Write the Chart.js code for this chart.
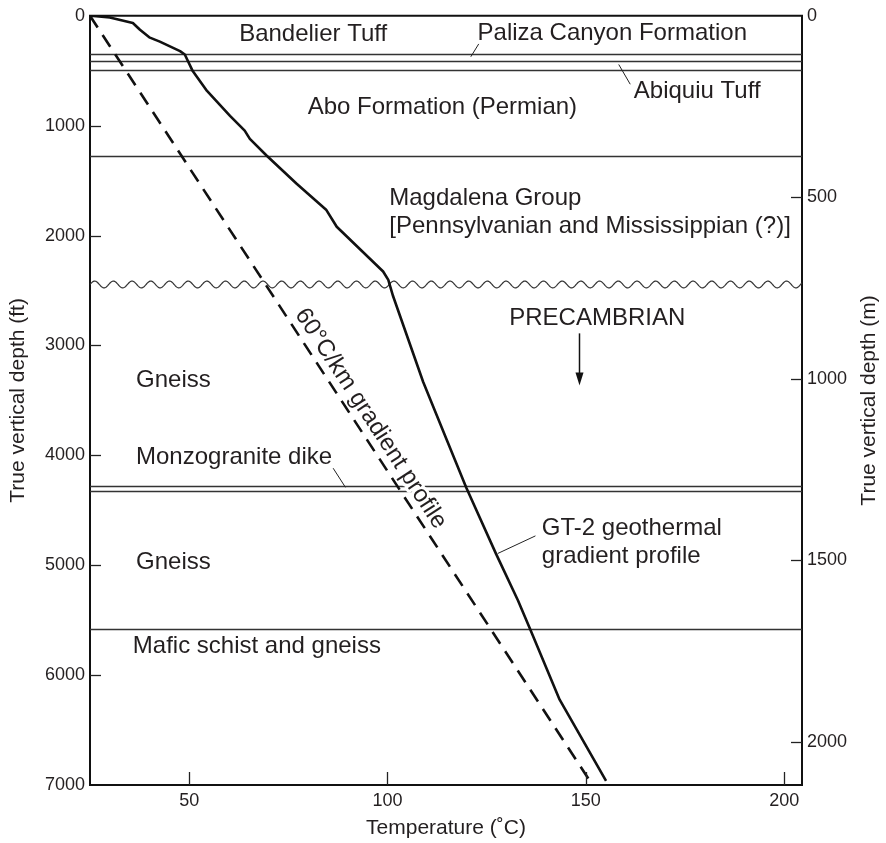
<!DOCTYPE html>
<html><head><meta charset="utf-8">
<script src="https://cdn.jsdelivr.net/npm/chart.js@4/dist/chart.umd.min.js"></script>
<style>html,body{margin:0;padding:0;background:#fff}#wrap{width:886px;height:843px}</style>
</head><body><div id="wrap"><canvas id="c" width="886" height="843"></canvas></div>
<script>
// ---- data ----
const xTickValues = [50, 100, 150, 200];
const yTickValuesFt = [0, 1000, 2000, 3000, 4000, 5000, 6000, 7000];
const yTickValuesM = [0, 500, 1000, 1500, 2000];
const tempRange = [25, 204.5];
const depthRangeFt = [0, 7000];
const depthRangeM = [0, 2118.5];

// GT-2 geothermal gradient profile (temperature °C, depth ft)
const gt2Temp  = [25.2, 30, 35.8, 37.6, 40.1, 42.6, 47.7, 48.9, 50.9, 54.5, 60.3, 64, 65.3, 69.5, 77.1, 84.6, 87.2, 98.9, 100.2, 101.4, 109, 114.8, 119.9, 127.4, 132.9, 136, 143.4, 155.1];
const gt2Depth = [0, 15, 66, 127, 199, 235, 322, 352, 503, 684, 910, 1045, 1120, 1271, 1529, 1768, 1920, 2327, 2403, 2550, 3333, 3846, 4297, 4899, 5321, 5585, 6224, 6962];

// 60°C/km gradient profile
const gradTemp  = [25, 151.7];
const gradDepth = [0, 7000];

// formation boundaries (ft)
const formationDepths = [344, 407, 494, 1275, 4275, 4322, 5583];
const unconformityDepth = 2445;

// text labels (anchor temperature, depth, alignment)
const labelTexts  = ['Bandelier Tuff', 'Paliza Canyon Formation', 'Abiquiu Tuff', 'Abo Formation (Permian)', 'Magdalena Group', '[Pennsylvanian and Mississippian (?)]', 'PRECAMBRIAN', 'Gneiss', 'Monzogranite dike', 'Gneiss', 'Mafic schist and gneiss', 'GT-2 geothermal', 'gradient profile'];
const labelTemps  = [62.6, 122.7, 162.1, 147.8, 100.45, 100.45, 130.7, 36.6, 36.6, 36.6, 35.8, 138.9, 138.9];
const labelDepths = [165, 157, 690, 835, 1664, 1915, 2756, 3319, 4020, 4974, 5734, 4664, 4920];
const labelAligns = ['left', 'left', 'left', 'right', 'left', 'left', 'left', 'left', 'left', 'left', 'left', 'left', 'left'];
const gradLabel = '60°C/km gradient profile';

// leader lines [T1, D1, T2, D2]
const leaderT1 = [123.0, 158.3, 86.3, 127.8];
const leaderD1 = [256, 443, 4117, 4893];
const leaderT2 = [121.0, 161.2, 89.4, 137.3];
const leaderD2 = [373, 623, 4291, 4733];

// PRECAMBRIAN arrow
const arrowTemp = 148.3;
const arrowDepths = [2890, 3364];

// ---- styles ----
const FONT = "'Liberation Sans', Arial, Helvetica, sans-serif";
const INK = '#231f20';
const rightTitle = 'True vertical depth (m)';

const decor = {
  id: 'decor',
  beforeDatasetsDraw(chart) {
    const {ctx, chartArea: a, scales: {x, y}} = chart;
    ctx.save();
    // formation lines
    ctx.strokeStyle = '#333';
    ctx.lineWidth = 1.3;
    formationDepths.forEach(d => {
      const py = Math.round(y.getPixelForValue(d)) + 0.5;
      ctx.beginPath(); ctx.moveTo(a.left, py); ctx.lineTo(a.right, py); ctx.stroke();
    });
    // unconformity wavy line
    const wy = y.getPixelForValue(unconformityDepth);
    ctx.beginPath();
    for (let px = a.left; px <= a.right; px += 0.5) {
      const yy = wy - 3.4 * Math.sin((px - a.left) / 18.7 * 2 * Math.PI);
      if (px === a.left) ctx.moveTo(px, yy); else ctx.lineTo(px, yy);
    }
    ctx.lineWidth = 1.2;
    ctx.stroke();
    // leader lines
    ctx.strokeStyle = '#222';
    ctx.lineWidth = 1;
    leaderT1.forEach((t, i) => {
      ctx.beginPath();
      ctx.moveTo(x.getPixelForValue(t), y.getPixelForValue(leaderD1[i]));
      ctx.lineTo(x.getPixelForValue(leaderT2[i]), y.getPixelForValue(leaderD2[i]));
      ctx.stroke();
    });
    // rotated gradient label
    const x0 = x.getPixelForValue(gradTemp[0]), y0 = y.getPixelForValue(gradDepth[0]);
    const x1 = x.getPixelForValue(gradTemp[1]), y1 = y.getPixelForValue(gradDepth[1]);
    const len = Math.hypot(x1 - x0, y1 - y0);
    const ux = (x1 - x0) / len, uy = (y1 - y0) / len;
    const t = 0.534 * len, off = 8;
    const cx = x0 + ux * t + uy * off, cy = y0 + uy * t - ux * off;
    ctx.translate(cx, cy);
    ctx.rotate(Math.atan2(uy, ux));
    ctx.font = '24px ' + FONT;
    ctx.textAlign = 'center';
    ctx.textBaseline = 'alphabetic';
    ctx.strokeStyle = '#fff';
    ctx.lineWidth = 6;
    ctx.lineJoin = 'round';
    ctx.strokeText(gradLabel, 0, 0);
    ctx.fillStyle = INK;
    ctx.fillText(gradLabel, 0, 0);
    ctx.restore();
  },
  afterDatasetsDraw(chart) {
    const {ctx, chartArea: a, scales: {x, y, y2}} = chart;
    ctx.save();
    // text labels
    ctx.font = '24px ' + FONT;
    ctx.fillStyle = INK;
    ctx.textBaseline = 'middle';
    labelTexts.forEach((s, i) => {
      ctx.textAlign = labelAligns[i];
      ctx.fillText(s, x.getPixelForValue(labelTemps[i]), y.getPixelForValue(labelDepths[i]));
    });
    // arrow
    const ax = Math.round(x.getPixelForValue(arrowTemp)) + 0.5;
    const ay0 = y.getPixelForValue(arrowDepths[0]), ay1 = y.getPixelForValue(arrowDepths[1]);
    ctx.strokeStyle = '#111';
    ctx.lineWidth = 1.5;
    ctx.beginPath(); ctx.moveTo(ax, ay0); ctx.lineTo(ax, ay1 - 8); ctx.stroke();
    ctx.fillStyle = '#111';
    ctx.beginPath(); ctx.moveTo(ax, ay1); ctx.lineTo(ax - 4, ay1 - 13); ctx.lineTo(ax + 4, ay1 - 13); ctx.closePath(); ctx.fill();
    // inward ticks
    ctx.strokeStyle = '#222';
    ctx.lineWidth = 1.3;
    xTickValues.forEach(v => {
      if (v <= x.min || v >= x.max) return;
      const px = Math.round(x.getPixelForValue(v)) + 0.5;
      ctx.beginPath(); ctx.moveTo(px, a.bottom); ctx.lineTo(px, a.bottom - 13); ctx.stroke();
    });
    yTickValuesFt.forEach(v => {
      if (v <= y.min || v >= y.max) return;
      const py = Math.round(y.getPixelForValue(v)) + 0.5;
      ctx.beginPath(); ctx.moveTo(a.left, py); ctx.lineTo(a.left + 11, py); ctx.stroke();
    });
    yTickValuesM.forEach(v => {
      if (v <= y2.min || v >= y2.max) return;
      const py = Math.round(y2.getPixelForValue(v)) + 0.5;
      ctx.beginPath(); ctx.moveTo(a.right, py); ctx.lineTo(a.right - 11, py); ctx.stroke();
    });
    // top frame line
    ctx.strokeStyle = '#111';
    ctx.lineWidth = 2;
    ctx.beginPath(); ctx.moveTo(a.left - 1, a.top); ctx.lineTo(a.right + 1, a.top); ctx.stroke();
    // right axis title (reads bottom-to-top)
    ctx.translate(y2.right - 17, (a.top + a.bottom) / 2);
    ctx.rotate(-Math.PI / 2);
    ctx.font = '21px ' + FONT;
    ctx.fillStyle = INK;
    ctx.textAlign = 'center';
    ctx.textBaseline = 'middle';
    ctx.fillText(rightTitle, 0, 0);
    ctx.restore();
  }
};

const tickFont = {family: FONT, size: 18};
const titleFont = {family: FONT, size: 21};
const toTicks = arr => arr.map(v => ({value: v}));

new Chart(document.getElementById('c'), {
  type: 'scatter',
  data: {
    datasets: [
      {
        data: gt2Temp.map((t, i) => ({x: t, y: gt2Depth[i]})),
        showLine: true, borderColor: '#111', borderWidth: 2.6, pointRadius: 0, tension: 0, fill: false,
        borderJoinStyle: 'round', yAxisID: 'y'
      },
      {
        data: gradTemp.map((t, i) => ({x: t, y: gradDepth[i]})),
        showLine: true, borderColor: '#111', borderWidth: 2.6, borderDash: [14, 9], pointRadius: 0, fill: false,
        yAxisID: 'y'
      }
    ]
  },
  options: {
    responsive: false, animation: false, devicePixelRatio: 1,
    layout: {padding: {top: 11, left: 0, right: 0, bottom: 0}},
    plugins: {legend: {display: false}, tooltip: {enabled: false}},
    scales: {
      x: {
        type: 'linear', position: 'bottom', min: tempRange[0], max: tempRange[1],
        afterBuildTicks: s => { s.ticks = toTicks(xTickValues); },
        afterFit: s => { s.height = 58; },
        ticks: {padding: 5, color: INK, font: tickFont, maxRotation: 0, callback: v => String(v)},
        grid: {display: false, drawTicks: false},
        border: {display: true, width: 2, color: '#111'},
        title: {display: true, text: 'Temperature (˚C)', color: INK, font: titleFont, padding: {top: 0, bottom: 2}}
      },
      y: {
        type: 'linear', position: 'left', reverse: true, min: depthRangeFt[0], max: depthRangeFt[1],
        afterBuildTicks: s => { s.ticks = toTicks(yTickValuesFt); },
        afterFit: s => { s.width = 90; },
        ticks: {padding: 5, color: INK, font: tickFont, callback: v => String(v)},
        grid: {display: false, drawTicks: false},
        border: {display: true, width: 2, color: '#111'},
        title: {display: true, text: 'True vertical depth (ft)', color: INK, font: titleFont, padding: {top: 6, bottom: 0}}
      },
      y2: {
        type: 'linear', position: 'right', reverse: true, min: depthRangeM[0], max: depthRangeM[1],
        afterBuildTicks: s => { s.ticks = toTicks(yTickValuesM); },
        afterFit: s => { s.width = 84; },
        ticks: {padding: 5, color: INK, font: tickFont, callback: v => String(v)},
        grid: {display: false, drawTicks: false},
        border: {display: true, width: 2, color: '#111'},
        title: {display: false}
      }
    }
  },
  plugins: [decor]
});
</script>
</body></html>
